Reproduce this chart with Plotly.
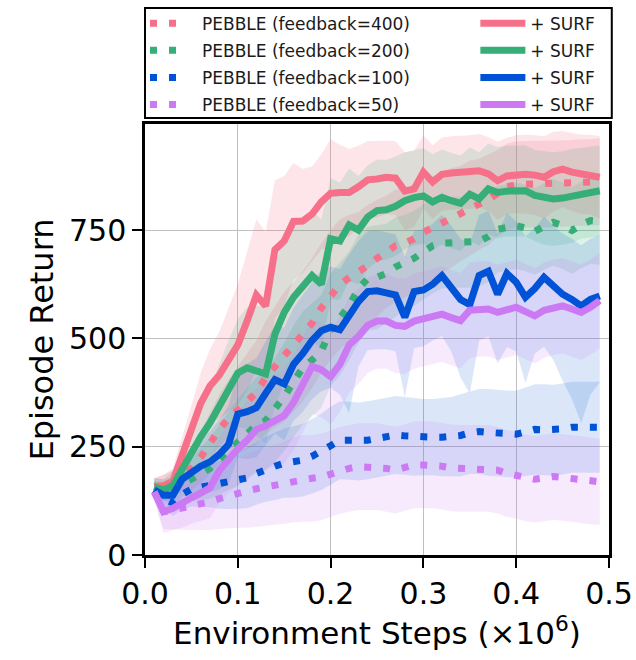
import plotly.graph_objects as go

steps = [0.01, 0.02, 0.03, 0.04, 0.05, 0.06, 0.07, 0.08, 0.09, 0.10,
         0.11, 0.12, 0.13, 0.14, 0.15, 0.16, 0.17, 0.18, 0.19, 0.20,
         0.21, 0.22, 0.23, 0.24, 0.25, 0.26, 0.27, 0.28, 0.29, 0.30,
         0.31, 0.32, 0.33, 0.34, 0.35, 0.36, 0.37, 0.38, 0.39, 0.40,
         0.41, 0.42, 0.43, 0.44, 0.45, 0.46, 0.47, 0.48, 0.49]

# PEBBLE (dotted) means
pebble_400 = [157, 160, 165, 185, 200, 225, 258, 290, 315, 335, 355, 375, 410, 435, 458, 480, 505, 535, 570, 600,
              625, 640, 652, 668, 685, 700, 714, 720, 730, 745, 755, 768, 778, 788, 800, 810, 820, 835, 850, 855,
              856, 856, 856, 857, 857, 858, 860, 860, 862]
pebble_200 = [157, 150, 150, 165, 175, 188, 200, 220, 240, 260, 280, 300, 310, 335, 365, 400, 432, 450, 470, 520,
              545, 575, 615, 638, 641, 650, 665, 675, 685, 700, 714, 720, 722, 722, 722, 724, 735, 752, 756, 760,
              755, 747, 758, 768, 760, 749, 762, 772, 770]
pebble_100 = [150, 130, 120, 140, 152, 156, 160, 162, 166, 172, 178, 188, 198, 205, 212, 215, 219, 228, 238, 252,
              265, 264, 262, 265, 269, 272, 277, 275, 273, 272, 272, 272, 273, 276, 282, 285, 283, 281, 280, 279,
              284, 290, 289, 288, 291, 295, 295, 295, 295]
pebble_50 = [146, 100, 104, 108, 112, 118, 123, 130, 137, 143, 148, 153, 157, 162, 167, 173, 177, 177, 180, 188,
             195, 200, 204, 204, 204, 200, 196, 202, 208, 208, 208, 205, 201, 200, 200, 200, 200, 196, 188, 184,
             178, 175, 178, 181, 179, 177, 174, 171, 169]

# + SURF (solid) means
surf_400 = [157, 160, 170, 225, 290, 350, 390, 415, 450, 485, 540, 600, 575, 705, 725, 770, 771, 787, 815, 835,
            837, 837, 850, 866, 868, 872, 870, 840, 845, 884, 861, 879, 882, 883, 884, 887, 880, 864, 875, 879,
            879, 877, 872, 885, 891, 884, 879, 878, 872]
surf_200 = [157, 150, 160, 200, 240, 273, 305, 345, 385, 420, 432, 425, 418, 510, 560, 595, 620, 645, 625, 730,
            725, 762, 750, 780, 795, 797, 805, 818, 825, 829, 815, 826, 818, 812, 833, 822, 845, 837, 840, 841,
            841, 830, 824, 822, 824, 829, 835, 838, 841]
surf_100 = [150, 138, 138, 175, 190, 205, 215, 232, 255, 325, 331, 340, 373, 405, 395, 440, 465, 495, 518, 526,
            520, 555, 585, 608, 610, 605, 600, 549, 608, 612, 625, 645, 620, 590, 578, 645, 655, 602, 650, 630,
            595, 615, 641, 620, 602, 590, 575, 590, 598]
surf_50 = [146, 100, 108, 118, 132, 143, 155, 195, 222, 245, 265, 290, 298, 310, 322, 352, 395, 435, 428, 412,
           440, 485, 505, 530, 540, 540, 530, 528, 540, 545, 550, 556, 548, 541, 565, 568, 568, 560, 566, 572,
           562, 552, 565, 572, 575, 568, 560, 572, 587]

# spreads (half-widths of shaded bands)
pebble_400_sd = [20, 25, 30, 40, 50, 60, 70, 80, 90, 100, 110, 120, 130, 140, 150, 150, 150, 150, 150, 150,
                 150, 145, 140, 140, 135, 130, 130, 125, 125, 120, 120, 115, 115, 110, 110, 105, 105, 100, 100, 100,
                 100, 100, 100, 100, 100, 100, 100, 100, 100]
pebble_200_sd = [20, 25, 30, 40, 50, 60, 70, 80, 90, 100, 105, 110, 115, 120, 125, 130, 130, 130, 130, 130,
                 130, 125, 125, 120, 120, 115, 115, 110, 110, 110, 110, 105, 105, 105, 105, 105, 105, 100, 100, 100,
                 100, 100, 100, 100, 100, 100, 100, 100, 100]
pebble_100_sd = [20, 25, 30, 35, 40, 45, 50, 55, 60, 65, 70, 72, 75, 78, 80, 82, 84, 86, 88, 90,
                 90, 90, 90, 90, 90, 90, 90, 90, 90, 88, 88, 90, 92, 95, 95, 98, 100, 100, 100, 100,
                 102, 104, 105, 105, 105, 105, 105, 105, 105]
pebble_50_sd = [20, 40, 45, 50, 55, 60, 65, 70, 75, 80, 85, 88, 90, 92, 95, 98, 100, 100, 100, 100,
                100, 100, 100, 100, 100, 100, 100, 100, 100, 100, 100, 100, 100, 100, 100, 100, 100, 100, 100, 100,
                100, 100, 100, 100, 100, 100, 100, 100, 100]
surf_400_sd = [20, 25, 30, 45, 55, 70, 85, 100, 120, 140, 160, 175, 170, 160, 150, 135, 120, 110, 110, 125,
               110, 100, 95, 90, 88, 85, 85, 90, 88, 85, 85, 85, 85, 85, 85, 85, 85, 90, 88, 90,
               92, 92, 95, 92, 88, 90, 92, 92, 95]
surf_200_sd = [20, 25, 35, 45, 55, 65, 80, 95, 110, 125, 140, 150, 160, 165, 165, 160, 155, 150, 150, 140,
               135, 130, 125, 120, 118, 115, 115, 112, 110, 110, 110, 110, 110, 110, 108, 108, 105, 105, 105, 105,
               105, 105, 108, 108, 108, 108, 105, 105, 105]
surf_100_sd_up = [20, 25, 30, 40, 50, 60, 70, 80, 90, 100, 110, 115, 120, 125, 130, 130, 135, 135, 140, 140,
                  140, 140, 140, 140, 140, 140, 140, 140, 140, 140, 140, 140, 140, 140, 140, 140, 140, 140, 140, 140,
                  140, 140, 140, 140, 140, 140, 140, 140, 140]
surf_100_sd_lo = [20, 25, 30, 40, 50, 60, 70, 80, 90, 100, 110, 115, 120, 125, 130, 130, 135, 135, 140, 140,
                  150, 228, 150, 135, 135, 130, 130, 185, 130, 130, 130, 140, 150, 180, 205, 150, 150, 160, 170, 160,
                  198, 150, 160, 170, 200, 230, 270, 220, 200]
surf_50_sd = [20, 50, 50, 55, 60, 65, 70, 75, 80, 85, 90, 95, 100, 105, 110, 110, 110, 110, 110, 110,
              110, 110, 110, 110, 110, 110, 110, 110, 110, 110, 110, 110, 110, 110, 110, 110, 110, 110, 110, 110,
              110, 110, 110, 110, 110, 110, 110, 110, 110]

pebble_labels = ["PEBBLE (feedback=400)", "PEBBLE (feedback=200)", "PEBBLE (feedback=100)", "PEBBLE (feedback=50)"]
surf_label = "+ SURF"
x_ticks = [0.0, 0.1, 0.2, 0.3, 0.4, 0.5]
y_ticks = [0, 250, 500, 750]

colors = ["#f6708a", "#35ae78", "#0052d6", "#cc7af4"]
fills = ["rgba(246,112,138,0.18)", "rgba(53,174,120,0.16)", "rgba(0,82,214,0.14)", "rgba(204,122,244,0.16)"]

pebbles = [pebble_400, pebble_200, pebble_100, pebble_50]
pebble_sds = [pebble_400_sd, pebble_200_sd, pebble_100_sd, pebble_50_sd]
surfs = [surf_400, surf_200, surf_100, surf_50]
surf_sd_up = [surf_400_sd, surf_200_sd, surf_100_sd_up, surf_50_sd]
surf_sd_lo = [surf_400_sd, surf_200_sd, surf_100_sd_lo, surf_50_sd]

fig = go.Figure()

def band(mean, sd_up, sd_lo, fill):
    lo = [m - s for m, s in zip(mean, sd_lo)]
    hi = [m + s for m, s in zip(mean, sd_up)]
    fig.add_trace(go.Scatter(x=steps, y=lo, mode="lines", line=dict(width=0), showlegend=False, hoverinfo="skip"))
    fig.add_trace(go.Scatter(x=steps, y=hi, mode="lines", line=dict(width=0), fill="tonexty",
                             fillcolor=fill, showlegend=False, hoverinfo="skip"))

for i in range(4):
    band(surfs[i], surf_sd_up[i], surf_sd_lo[i], fills[i])
    band(pebbles[i], pebble_sds[i], pebble_sds[i], fills[i])

for i in range(4):
    fig.add_trace(go.Scatter(x=steps, y=pebbles[i], mode="lines", name="\u2003" + pebble_labels[i],
                             line=dict(color=colors[i], width=7, dash="7px,12px"),
                             legend="legend", legendgroup="p%d" % i))
for i in range(4):
    fig.add_trace(go.Scatter(x=steps, y=surfs[i], mode="lines", name=surf_label,
                             line=dict(color=colors[i], width=7),
                             legend="legend2", legendgroup="s%d" % i))

axis_common = dict(showline=True, mirror=True, linecolor="black", linewidth=2.5,
                   ticks="outside", ticklen=10, tickwidth=2, tickcolor="black",
                   showgrid=True, gridcolor="#c0c0c0", gridwidth=1, zeroline=False,
                   automargin=False, tickfont=dict(size=30, color="black"))

fig.update_layout(
    width=636, height=660,
    margin=dict(l=145, r=27, t=124, b=105, autoexpand=False),
    plot_bgcolor="white", paper_bgcolor="white",
    font=dict(family="DejaVu Sans", color="black"),
    xaxis=dict(range=[0, 0.5], tickvals=x_ticks, ticktext=["%.1f" % v for v in x_ticks],
               title=dict(text="Environment Steps (×10<sup>6</sup>)", font=dict(size=31), standoff=8),
               **axis_common),
    yaxis=dict(range=[0, 995], tickvals=y_ticks,
               title=dict(text="Episode Return", font=dict(size=32), standoff=6),
               **axis_common),
    legend=dict(x=0.0, y=1.2746, xanchor="left", yanchor="top", orientation="v",
                font=dict(size=17, color="#1a1a1a"), bgcolor="rgba(0,0,0,0)", borderwidth=0,
                itemwidth=30, tracegroupgap=2),
    legend2=dict(x=0.712, y=1.2746, xanchor="left", yanchor="top", orientation="v",
                 font=dict(size=17, color="#1a1a1a"), bgcolor="rgba(0,0,0,0)", borderwidth=0,
                 itemwidth=45, tracegroupgap=2),
    shapes=[dict(type="rect", xref="paper", yref="paper", x0=0.0, x1=1.006, y0=1.014, y1=1.269,
                 line=dict(color="black", width=2), fillcolor="rgba(0,0,0,0)", layer="above")],
)

fig.write_html("out.html")
